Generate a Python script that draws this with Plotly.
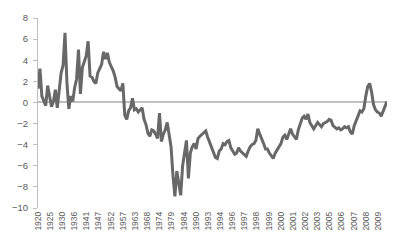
import plotly.graph_objects as go

# Tick labels (one label roughly every 6.3 observations)
labels = ["1920", "1925", "1930", "1936", "1941", "1947", "1952", "1957", "1963",
          "1968", "1974", "1979", "1984", "1990", "1993", "1994", "1996", "1997",
          "1998", "1999", "2000", "2001", "2002", "2003", "2005", "2006", "2007",
          "2008", "2009"]
points_per_label = 6.3

# Series values
values = [
    1.3, 3.2, 0.6, 0.2, -0.3, 1.6, 0.5, -0.4, 0.1, 1.2,
    -0.5, 1.0, 2.8, 3.5, 6.6, 1.9, -0.6, 0.6, 0.1, 1.4,
    2.2, 5.0, 0.8, 3.3, 3.8, 4.4, 5.8, 2.5, 2.4, 2.0,
    1.8, 2.8, 3.2, 3.6, 4.8, 4.1, 4.7, 3.8, 3.4, 3.0,
    2.4, 1.5, 1.3, 1.1, 1.8, -1.2, -1.6, -0.8, -0.5, 0.4,
    -0.7, -0.6, -0.9, -0.7, -0.5, -1.6, -2.1, -2.9, -3.2, -2.6,
    -2.7, -3.0, -3.4, -1.0, -3.7, -3.0, -2.6, -1.9, -3.0, -4.2,
    -6.9, -8.9, -6.5, -7.6, -8.8, -6.0, -4.6, -3.6, -7.2, -4.8,
    -4.2, -3.9, -4.4, -3.4, -3.2, -3.0, -2.8, -2.7, -3.3, -3.8,
    -4.2, -4.6, -5.2, -5.3, -4.6, -4.4, -3.9, -4.0, -3.7, -3.6,
    -4.3, -4.6, -4.9, -4.8, -4.3, -4.6, -4.8, -5.0, -5.1, -4.6,
    -4.2, -4.0, -3.9, -3.6, -2.5, -3.0, -3.4, -3.9, -4.4, -4.4,
    -4.8, -5.0, -5.3, -4.8, -4.5, -4.1, -3.9, -3.3, -3.1, -3.5,
    -2.9, -2.5, -3.0, -3.3, -3.5, -2.6, -2.0, -1.5, -1.3, -1.6,
    -1.1, -1.9, -2.2, -2.5, -2.2, -1.9, -2.1, -2.3, -2.0, -1.9,
    -1.8, -1.6, -1.7, -2.2, -2.4, -2.5, -2.4, -2.6, -2.5, -2.3,
    -2.4, -2.3, -2.8, -3.0, -2.2, -1.7, -1.4, -0.8, -0.9, -0.6,
    0.6, 1.5, 1.8, 1.0, -0.2, -0.7, -0.9, -1.0, -1.3, -0.8,
    -0.2, 0.1,
]

x = list(range(len(values)))
tickvals = [i * points_per_label for i in range(len(labels))]

fig = go.Figure()
fig.add_trace(go.Scatter(
    x=x, y=values, mode="lines",
    line=dict(color="#686868", width=3),
    hoverinfo="skip",
))

fig.update_layout(
    width=400, height=243,
    margin=dict(l=25, r=13, t=14, b=33),
    paper_bgcolor="white", plot_bgcolor="white",
    showlegend=False,
    font=dict(family="Liberation Sans, Arial, sans-serif", color="#595959"),
)
fig.update_xaxes(
    range=[0, len(values) - 1],
    tickmode="array", tickvals=tickvals, ticktext=labels,
    tickangle=-90, tickfont=dict(size=8.5),
    showgrid=False, zeroline=False, showline=False, ticks="",
    ticklabelstandoff=1,
)
fig.update_yaxes(
    range=[-10, 8], tickmode="array", tickvals=list(range(-10, 9, 2)),
    tickfont=dict(size=9.5),
    showgrid=False, zeroline=True, zerolinecolor="#bfbfbf", zerolinewidth=1.5,
    showline=True, linecolor="#bfbfbf", linewidth=1,
    ticks="outside", ticklen=4, tickcolor="#bfbfbf",
    ticklabelstandoff=3,
)

fig.write_html("out.html")
